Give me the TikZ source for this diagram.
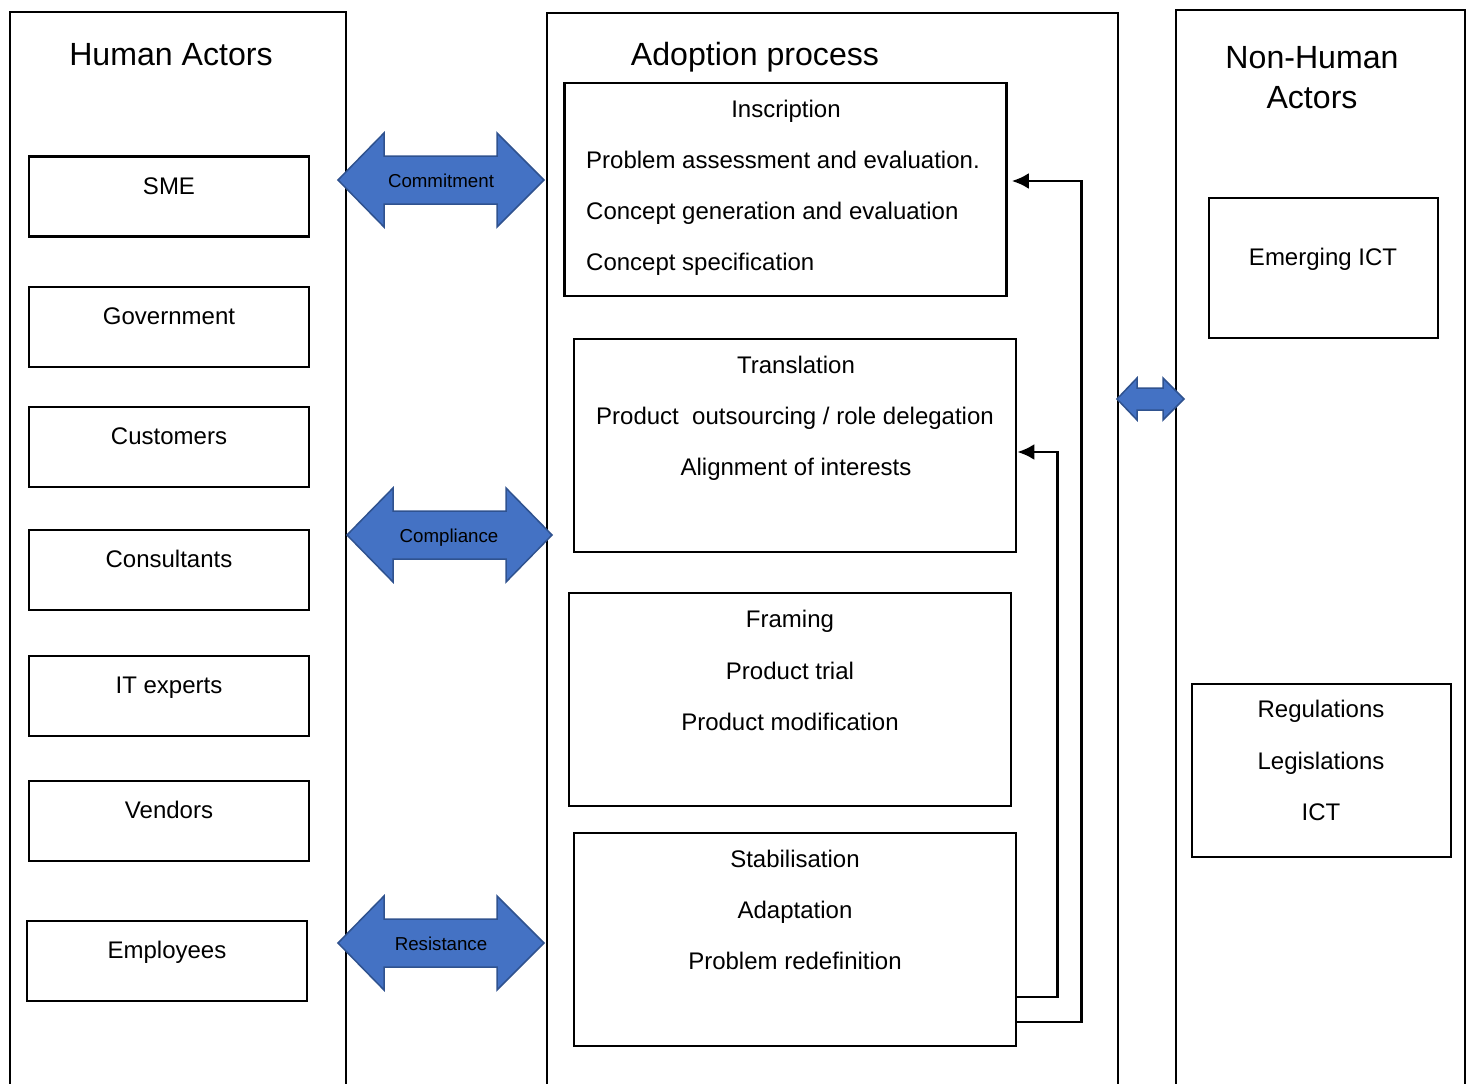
\documentclass[tikz,border=0pt]{standalone}
\usepackage{fontspec}
\setmainfont{Liberation Sans}
\usetikzlibrary{arrows.meta}

\definecolor{arrowfill}{HTML}{4472C4}
\definecolor{arrowedge}{HTML}{2F528F}

% double-headed block arrow: left tip, left head base, right head base, right tip, centre y, head half-height, shaft half-height
\newcommand\dblblock[7]{%
  \filldraw[blockarrow] (#1,#5) -- (#2,#5-#6) -- (#2,#5-#7) -- (#3,#5-#7) -- (#3,#5-#6)
    -- (#4,#5) -- (#3,#5+#6) -- (#3,#5+#7) -- (#2,#5+#7) -- (#2,#5+#6) -- cycle;}

\tikzset{
  column/.style={line width=2.7pt},
  actorbox/.style={draw, line width=2.7pt, inner sep=0pt, minimum width=280pt, minimum height=80pt},
  stagebox/.style={draw, line width=2.7pt, inner sep=0pt, minimum width=442pt, minimum height=213pt},
  title/.style={font=\fontsize{32.1}{38}\selectfont, anchor=base, inner sep=0pt},
  body/.style={font=\fontsize{24}{28}\selectfont, anchor=base, inner sep=0pt},
  bodyleft/.style={body, anchor=base west},
  arrowlabel/.style={font=\fontsize{18.7}{22}\selectfont, anchor=base, inner sep=0pt},
  blockarrow/.style={fill=arrowfill, draw=arrowedge, line width=1.5pt, line join=miter},
  feedback/.style={line width=2.7pt, -{Latex[length=17pt,width=16pt]}},
}

\begin{document}
\begin{tikzpicture}[x=1pt,y=-1pt]
\useasboundingbox (0,0) rectangle (1470,1084);

% three open-bottomed columns
\draw[column] (10,1095) -- (10,12) -- (346,12) -- (346,1095);
\draw[column] (547,1095) -- (547,13) -- (1118,13) -- (1118,1095);
\draw[column] (1176,1095) -- (1176,10) -- (1465,10) -- (1465,1095);

% column titles
\node[title] (humanT) at (171,65) {Human Actors};
\node[title] (adoptT) at (755,65) {Adoption process};
\node[title] (nonhumanT1) at (1312,68) {Non-Human};
\node[title] (nonhumanT2) at (1312,108) {Actors};

% human actors
\node[actorbox] (sme) at (169,196.5) {};
\node[body] (smeT) at (169,194) {SME};
\node[actorbox] (gov) at (169,327) {};
\node[body] (govT) at (169,324) {Government};
\node[actorbox] (cust) at (169,447) {};
\node[body] (custT) at (169,444) {Customers};
\node[actorbox] (cons) at (169,570) {};
\node[body] (consT) at (169,567) {Consultants};
\node[actorbox] (itx) at (169,696) {};
\node[body] (itxT) at (169,693) {IT experts};
\node[actorbox] (vend) at (169,821) {};
\node[body] (vendT) at (169,818) {Vendors};
\node[actorbox] (empl) at (167,961) {};
\node[body] (emplT) at (167,958) {Employees};

% adoption stages
\node[stagebox] (insc) at (785.5,189.5) {};
\node[body] (inscT) at (786,117) {Inscription};
\node[bodyleft] (inscA) at (586,168) {Problem assessment and evaluation.};
\node[bodyleft] (inscB) at (586,219) {Concept generation and evaluation};
\node[bodyleft] (inscC) at (586,270) {Concept specification};

\node[stagebox] (trans) at (795,445.5) {};
\node[body] (transT) at (796,373) {Translation};
\node[body] (transA) at (795,424) {Product\ \ outsourcing / role delegation};
\node[body] (transB) at (796,475) {Alignment of interests};

\node[stagebox] (fram) at (790,699.5) {};
\node[body] (framT) at (790,627) {Framing};
\node[body] (framA) at (790,679) {Product trial};
\node[body] (framB) at (790,730) {Product modification};

\node[stagebox] (stab) at (795,939.5) {};
\node[body] (stabT) at (795,867) {Stabilisation};
\node[body] (stabA) at (795,918) {Adaptation};
\node[body] (stabB) at (795,969) {Problem redefinition};

% feedback loops from stabilisation
\draw[feedback] ([yshift=-82.5pt]stab.east) -- ++(64,0) |- ([xshift=4pt,yshift=8.5pt]insc.east);
\draw[feedback] ([yshift=-57.5pt]stab.east) -- ++(40,0) |- ([xshift=0pt,yshift=-6.5pt]trans.east);

% non-human actors
\node[draw, line width=2.7pt, inner sep=0pt, minimum width=229pt, minimum height=140pt] (ict) at (1323.5,268) {};
\node[body] (ictT) at (1323,265) {Emerging ICT};
\node[draw, line width=2.7pt, inner sep=0pt, minimum width=259pt, minimum height=173pt] (reg) at (1321.5,770.5) {};
\node[body] (regA) at (1321,717) {Regulations};
\node[body] (regB) at (1321,769) {Legislations};
\node[body] (regC) at (1321,820) {ICT};

% interaction arrows
\dblblock{338}{384}{497}{544}{180}{47}{24}
\node[arrowlabel] (commit) at (441,187) {Commitment};
\dblblock{347}{393}{506}{552}{535}{47}{24}
\node[arrowlabel] (compl) at (449,542) {Compliance};
\dblblock{338}{384}{497}{544}{943}{47}{24}
\node[arrowlabel] (resist) at (441,950) {Resistance};
\dblblock{1117}{1137}{1163}{1184}{399}{21}{11}

\end{tikzpicture}
\end{document}
